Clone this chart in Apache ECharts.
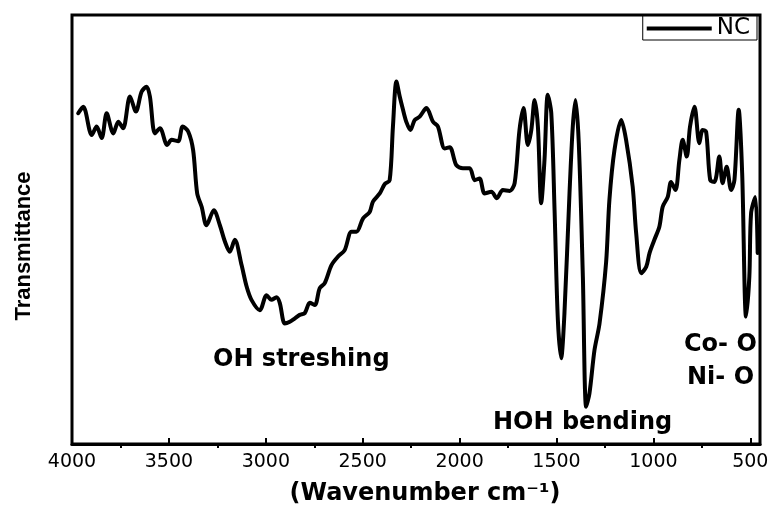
<!DOCTYPE html>
<html>
<head>
<meta charset="utf-8">
<script src="https://cdn.jsdelivr.net/npm/echarts@6/dist/echarts.min.js"></script>
<style>html,body{margin:0;padding:0;background:#fff}#c{width:771px;height:508px}</style>
</head>
<body>
<div id="c"></div>
<script>
// Wavenumber (cm-1) of each traced point
const wavenumber = [3968,3942,3898,3873,3847,3821,3787,3761,3736,3701,3670,3641,3615,3598,3572,3546,3509,3486,3452,3429,3400,3375,3354,3331,3306,3268,3237,3211,3186,3160,3125,3099,3074,3031,2996,2971,2945,2928,2902,2876,2850,2825,2799,2773,2747,2722,2696,2661,2627,2593,2558,2532,2498,2464,2447,2412,2386,2361,2344,2326,2309,2292,2275,2254,2232,2206,2171,2137,2112,2077,2051,2017,1983,1948,1922,1897,1871,1836,1808,1777,1742,1716,1691,1670,1648,1630,1613,1596,1579,1562,1545,1527,1510,1493,1476,1459,1433,1416,1402,1385,1364,1347,1330,1304,1278,1244,1227,1201,1166,1141,1107,1089,1063,1037,1020,995,969,952,926,909,886,866,849,828,811,788,763,746,728,707,685,660,643,622,599,582,560,542,522,505,496,474,462];
// Transmittance (arbitrary units)
const transmittance = [77.1,78.6,72.0,74.0,71.3,77.1,72.4,75.1,73.6,81.0,77.5,82.1,83.3,81.0,72.4,73.6,69.7,70.9,70.6,74.0,72.8,68.5,58.4,55.3,51.0,54.5,51.0,47.2,44.8,47.6,41.7,36.7,33.6,31.2,34.7,33.6,34.2,32.9,28.1,28.5,29.3,30.1,30.5,32.9,32.4,36.3,37.5,41.7,43.7,45.2,49.5,49.5,52.6,54.1,56.5,58.4,60.6,61.5,74.0,84.5,81.0,77.9,75.1,73.2,75.5,76.3,78.3,75.1,74.0,68.9,69.2,65.0,64.3,64.3,61.5,61.9,58.4,58.8,57.3,59.2,59.0,60.8,73.2,78.3,69.7,73.2,80.2,74.0,56.1,66.2,81.4,77.1,54.5,28.9,20.0,30.5,58.4,74.0,80.2,70.1,39.0,8.7,11.8,21.9,28.1,42.4,56.9,68.5,75.5,70.9,60.0,49.2,39.8,41.3,44.5,47.6,50.7,55.3,57.6,61.1,59.2,66.2,70.9,67.0,74.0,78.6,70.1,73.2,72.8,61.5,61.1,67.0,60.8,64.6,59.2,61.5,77.9,63.1,29.7,39.0,53.8,57.6,44.5];
const majorTicks = [4000,3500,3000,2500,2000,1500,1000,500];
const minorTicks = [3750,3250,2750,2250,1750,1250,750];
const seriesName = 'NC';
const xTitle = '(Wavenumber cm⁻¹)';
const yTitle = 'Transmittance';
const annotations = ['OH streshing','HOH bending','Co- O','Ni- O'];

const data = wavenumber.map((w, i) => [w, transmittance[i]]);
const chart = echarts.init(document.getElementById('c'), null, {renderer: 'canvas'});
const boldFont = 'bold 24px "DejaVu Sans"';
chart.setOption({
  animation: false,
  backgroundColor: '#fff',
  grid: {left: 72, right: 11, top: 15, bottom: 64, containLabel: false, outerBoundsMode: 'none',
    show: true, borderColor: '#000', borderWidth: 3, backgroundColor: 'transparent'},
  legend: {
    right: 14, top: 15, padding: [2, 7, 0, 4], borderColor: '#000', borderWidth: 1,
    itemWidth: 65, itemHeight: 4, icon: 'rect',
    textStyle: {fontSize: 23, fontFamily: 'DejaVu Sans', color: '#000'},
    data: [seriesName]
  },
  xAxis: [{
    type: 'value', min: 450, max: 4000, inverse: true, position: 'bottom',
    axisLine: {show: true, lineStyle: {color: '#000', width: 3}},
    axisTick: {show: true, inside: true, length: 6, lineStyle: {color: '#000', width: 2}, customValues: majorTicks},
    axisLabel: {show: true, margin: 9, fontSize: 19, fontFamily: 'DejaVu Sans', color: '#000', customValues: majorTicks,
      formatter: v => String(v)},
    splitLine: {show: false},
    name: xTitle, nameLocation: 'middle', nameGap: 38,
    nameTextStyle: {fontSize: 24, fontWeight: 'bold', fontFamily: 'DejaVu Sans', color: '#000', padding: [0, 0, 0, 18]}
  }, {
    type: 'value', min: 450, max: 4000, inverse: true, position: 'bottom',
    axisLine: {show: false},
    axisTick: {show: true, inside: false, length: 4, lineStyle: {color: '#000', width: 2}, customValues: minorTicks},
    axisLabel: {show: false},
    splitLine: {show: false}
  }],
  yAxis: {
    type: 'value', min: 0, max: 100,
    axisLine: {show: false}, axisTick: {show: false}, axisLabel: {show: false}, splitLine: {show: false}
  },
  series: [{
    name: seriesName, type: 'line', data: data, smooth: 0.3, symbol: 'none',
    lineStyle: {color: '#000', width: 4, cap: 'round', join: 'round'},
    itemStyle: {color: '#000'}
  }],
  graphic: [
    {type: 'text', rotation: Math.PI / 2, x: 24, y: 246, style: {text: yTitle, font: 'bold 22px "Liberation Sans"', fill: '#000', align: 'center', verticalAlign: 'middle'}},
    {type: 'text', x: 213, y: 360, style: {text: annotations[0], font: boldFont, fill: '#000', align: 'left', verticalAlign: 'middle'}},
    {type: 'text', x: 493, y: 423, style: {text: annotations[1], font: boldFont, fill: '#000', align: 'left', verticalAlign: 'middle'}},
    {type: 'text', x: 684, y: 345, style: {text: annotations[2], font: boldFont, fill: '#000', align: 'left', verticalAlign: 'middle'}},
    {type: 'text', x: 687, y: 378, style: {text: annotations[3], font: boldFont, fill: '#000', align: 'left', verticalAlign: 'middle'}}
  ]
});
</script>
</body>
</html>
